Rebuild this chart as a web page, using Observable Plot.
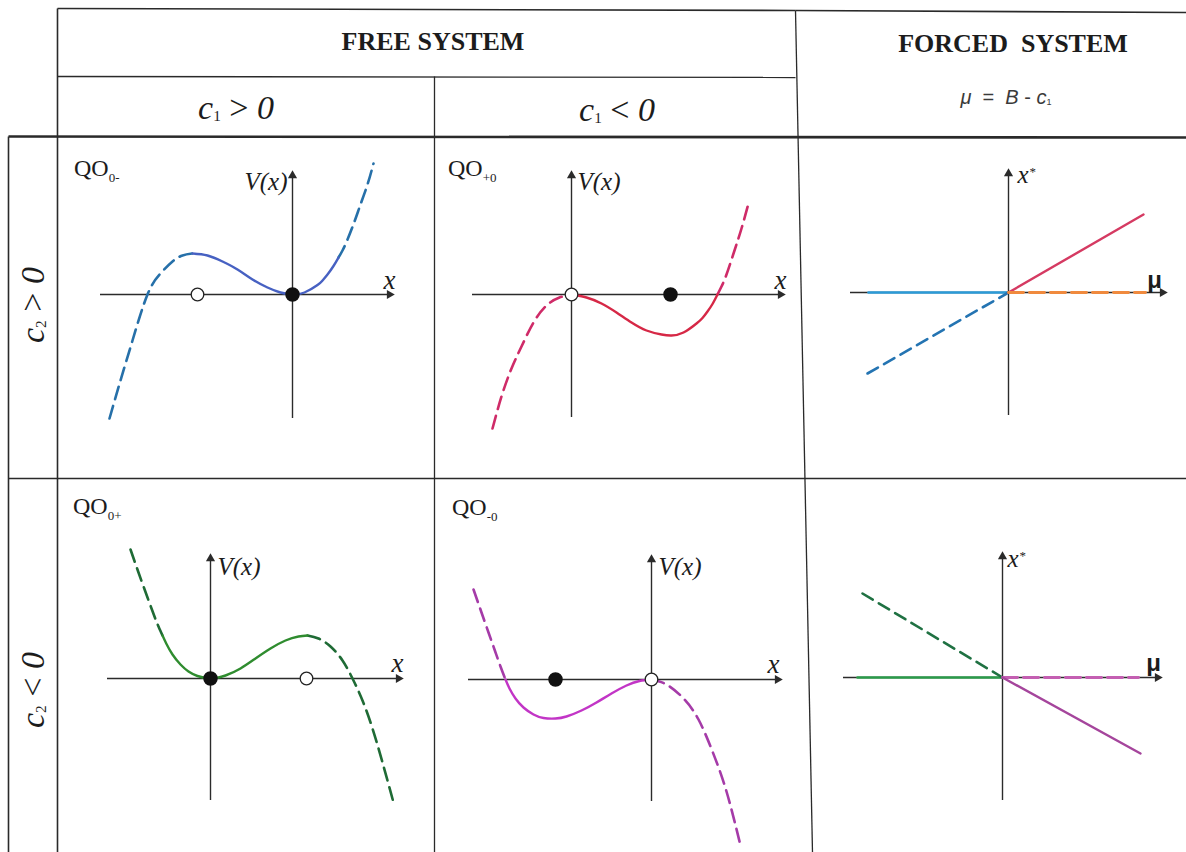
<!DOCTYPE html>
<html>
<head>
<meta charset="utf-8">
<script src="https://cdn.jsdelivr.net/npm/d3@7"></script>
<script src="https://cdn.jsdelivr.net/npm/@observablehq/plot@0.6"></script>
<style>
  html, body { margin: 0; padding: 0; background: #fff; }
  #page { position: relative; width: 1186px; height: 852px; overflow: hidden; background: #fff;
          font-family: "Liberation Serif", "Times New Roman", serif; color: #1c1c1c; }
  #page svg { position: absolute; overflow: visible; }
  .t { position: absolute; white-space: nowrap; line-height: 1; }
  .t sub { font-size: 0.45em; vertical-align: -0.1em; line-height: 0; }
  .qo sub { font-size: 13px; vertical-align: -6px; line-height: 0; }
  .sans { font-family: "Liberation Sans", Arial, sans-serif; }
</style>
</head>
<body>
<div id="page"></div>
<script>
// ---------- potential curves V(x), in axis units (origin at the axis crossing, V upward) ----------
// QO0-  (c1 > 0, c2 > 0)
const qo0mLeft  = [[-183,-124],[-172,-86],[-160,-46],[-145,0],[-132,21],[-120,33],[-110,39],[-100,41]];
const qo0mWell  = [[-100,41],[-85,39],[-70,33],[-55,25],[-40,15],[-25,7],[-12,2],[0,0],[12,2],[25,9.5],[30,14],[35,20],[41,28.5],[46,37]];
const qo0mRight = [[46,37],[50,44],[55,55],[62,73],[68,90],[75,110],[81,131]];
const qo0mStable = [0], qo0mUnstable = [-95];

// QO+0  (c1 < 0, c2 > 0)
const qop0Left  = [[-79,-134],[-70,-102],[-60,-74],[-50,-52],[-38,-28],[-25,-11],[-12,-3],[0,0]];
const qop0Well  = [[0,0],[15,-3],[30,-9],[45,-18],[60,-28],[75,-36],[90,-40],[100,-41],[112,-38],[125,-29],[131,-23.5],[136,-17],[141,-9.5],[146,0]];
const qop0Right = [[146,0],[150,8],[155,20],[163,44],[170,66],[177,91]];
const qop0Stable = [99], qop0Unstable = [0];

// QO0+  (c1 > 0, c2 < 0)
const qo0pLeft  = [[-80,129],[-72,106],[-63,81],[-56,62],[-52,52],[-48,43]];
const qo0pWell  = [[-48,43],[-44,34.5],[-38,24],[-30,14],[-22,7],[-13,2.5],[0,0],[15,3],[30,10],[45,20],[60,30],[75,38],[88,42],[97,43]];
const qo0pRight = [[97,43],[108,40],[120,32],[132,18],[142,0],[152,-22],[162,-50],[172,-84],[183,-124]];
const qo0pStable = [0], qo0pUnstable = [96];

// QO-0  (c1 < 0, c2 < 0)
const qom0Left  = [[-178,90],[-170,67],[-163,47],[-157,30],[-151,13],[-146,0]];
const qom0Well  = [[-146,0],[-142,-9],[-136,-19],[-128,-28],[-118,-35],[-108,-38.5],[-96,-39],[-85,-37],[-70,-31],[-55,-23],[-40,-14],[-25,-6],[-12,-1.5],[0,0]];
const qom0Right = [[0,0],[15,-5],[32,-19],[47,-40],[61,-72],[75,-112],[89,-166]];
const qom0Stable = [-96], qom0Unstable = [0];

// ---------- forced system: equilibrium branches x*(mu) ----------
const fUpStableLeft   = [[-140,0],[0,0]];
const fUpUnstableLeft = [[-141,-81],[0,0]];
const fUpStableRight  = [[0,0],[135,78]];
const fUpUnstableRight= [[0,0],[137,0]];

const fDnStableLeft   = [[-145,0],[0,0]];
const fDnUnstableLeft = [[-140,84],[0,0]];
const fDnUnstableRight= [[0,0],[136,0]];
const fDnStableRight  = [[0,0],[138,-76]];

// axis extents per panel [xmin, xmax], [ymin, ymax]
const axesQo0m = [[-192,100],[-124,122]];
const axesQop0 = [[-99,212],[-123,122]];
const axesFUp  = [[-158,157],[-123,122]];
const axesQo0p = [[-103,191],[-122,123]];
const axesQom0 = [[-183,129],[-122,123]];
const axesFDn  = [[-159,158],[-123,124]];

// ---------- layout ----------
const page = document.getElementById("page");
const AXIS = "#2b2b2b";
const SERIF = "Liberation Serif, Times New Roman, serif";

// table rules, page pixels
const tableRules = [
  {x1:57,  y1:8,   x2:795,  y2:10,  w:1.6},
  {x1:795, y1:10,  x2:1186, y2:12,  w:1.6},
  {x1:57,  y1:8,   x2:57,   y2:852, w:1.6},
  {x1:57,  y1:76,  x2:795,  y2:77,  w:1.3},
  {x1:434, y1:76,  x2:434,  y2:852, w:1.3},
  {x1:795, y1:10,  x2:812,  y2:852, w:1.3},
  {x1:8,   y1:136, x2:1186, y2:137, w:2.6},
  {x1:8,   y1:478, x2:1186, y2:478, w:1.3},
  {x1:8,   y1:136, x2:8,    y2:852, w:1.6}
];

const grid = Plot.plot({
  width: 1186, height: 852, margin: 0,
  x: {domain: [0, 1186], axis: null},
  y: {domain: [0, 852], range: [0, 852], axis: null},
  marks: [
    Plot.link(tableRules, {x1: "x1", y1: "y1", x2: "x2", y2: "y2", strokeWidth: "w", stroke: "#2a2a2a"})
  ]
});
grid.style.left = "0px"; grid.style.top = "0px";
page.appendChild(grid);

function axisMarks([xr, yr]) {
  return [
    Plot.ruleY([0], {x1: xr[0], x2: xr[1] - 3, stroke: AXIS, strokeWidth: 1.4}),
    Plot.ruleX([0], {y1: yr[0], y2: yr[1] - 3, stroke: AXIS, strokeWidth: 1.4}),
    Plot.dot([[xr[1] - 3, 0]], {symbol: "triangle", r: 3.4, fill: AXIS, stroke: "none", rotate: 90}),
    Plot.dot([[0, yr[1] - 3]], {symbol: "triangle", r: 3.4, fill: AXIS, stroke: "none"})
  ];
}

function potentialMarks(left, well, right, stable, unstable, dashColor, solidColor) {
  const dash = {curve: "natural", stroke: dashColor, strokeWidth: 2.6, strokeDasharray: "13,7"};
  return [
    Plot.line(left, dash),
    Plot.line(right, dash),
    Plot.line(well, {curve: "natural", stroke: solidColor, strokeWidth: 2.4}),
    Plot.dot(stable, {x: d => d, y: 0, r: 6.5, fill: "#111", stroke: "#111"}),
    Plot.dot(unstable, {x: d => d, y: 0, r: 6.3, fill: "#fff", stroke: "#222", strokeWidth: 1.3})
  ];
}

function axisText(text, x, y, o) {
  return Plot.text([text], {x, y, text: d => d, fontFamily: SERIF, fontStyle: "italic", fill: "#1c1c1c", ...o});
}

function panel(f, marks) {
  const svg = Plot.plot({
    width: f.width, height: f.height, margin: 0,
    x: {domain: [f.left - f.ox, f.left + f.width - f.ox], axis: null},
    y: {domain: [f.oy - f.top - f.height, f.oy - f.top], axis: null},
    style: {background: "transparent", overflow: "visible"},
    marks
  });
  svg.style.left = f.left + "px";
  svg.style.top = f.top + "px";
  page.appendChild(svg);
}

// QO0-
panel({left: 60, top: 140, width: 372, height: 336, ox: 292, oy: 294}, [
  ...axisMarks(axesQo0m),
  ...potentialMarks(qo0mLeft, qo0mWell, qo0mRight, qo0mStable, qo0mUnstable, "#2670a9", "#4761c2"),
  axisText("V(x)", 0, axesQo0m[1][1], {textAnchor: "end", dx: -5, dy: 9, fontSize: 25}),
  axisText("x", axesQo0m[0][1], 0, {dx: -3, dy: -14, fontSize: 27})
]);

// QO+0
panel({left: 437, top: 140, width: 362, height: 336, ox: 571, oy: 294}, [
  ...axisMarks(axesQop0),
  ...potentialMarks(qop0Left, qop0Well, qop0Right, qop0Stable, qop0Unstable, "#cf2b68", "#d62846"),
  axisText("V(x)", 0, axesQop0[1][1], {textAnchor: "start", dx: 6, dy: 9, fontSize: 25}),
  axisText("x", axesQop0[0][1], 0, {dx: -3, dy: -14, fontSize: 27})
]);

// forced, c2 > 0
panel({left: 812, top: 140, width: 374, height: 336, ox: 1008, oy: 292}, [
  ...axisMarks(axesFUp),
  Plot.line(fUpStableLeft, {stroke: "#2b9bd8", strokeWidth: 2.6}),
  Plot.line(fUpUnstableLeft, {stroke: "#2474b2", strokeWidth: 2.6, strokeDasharray: "12,7"}),
  Plot.line(fUpStableRight, {stroke: "#d53a62", strokeWidth: 2.4}),
  Plot.line(fUpUnstableRight, {stroke: "#f08a3e", strokeWidth: 2.8, strokeDasharray: "15,6"}),
  axisText("x", 0, axesFUp[1][1], {textAnchor: "start", dx: 9, dy: 4, fontSize: 25}),
  axisText("*", 0, axesFUp[1][1], {textAnchor: "start", dx: 21, dy: 1, fontSize: 13, fontStyle: "normal"}),
  Plot.text(["μ"], {x: axesFUp[0][1], y: 0, text: d => d, dx: -11, dy: -12, fontSize: 24,
    fontFamily: "Liberation Sans, Arial, sans-serif", fontWeight: "bold", fill: "#1c1c1c"})
]);

// QO0+
panel({left: 60, top: 481, width: 372, height: 370, ox: 210, oy: 678}, [
  ...axisMarks(axesQo0p),
  ...potentialMarks(qo0pLeft, qo0pWell, qo0pRight, qo0pStable, qo0pUnstable, "#1f6b35", "#2f8c2f"),
  axisText("V(x)", 0, axesQo0p[1][1], {textAnchor: "start", dx: 7, dy: 11, fontSize: 25}),
  axisText("x", axesQo0p[0][1], 0, {dx: -4, dy: -15, fontSize: 27})
]);

// QO-0
panel({left: 437, top: 481, width: 368, height: 370, ox: 651, oy: 679}, [
  ...axisMarks(axesQom0),
  ...potentialMarks(qom0Left, qom0Well, qom0Right, qom0Stable, qom0Unstable, "#a53ba8", "#c235c6"),
  axisText("V(x)", 0, axesQom0[1][1], {textAnchor: "start", dx: 7, dy: 10, fontSize: 25}),
  axisText("x", axesQom0[0][1], 0, {dx: -7, dy: -15, fontSize: 27})
]);

// forced, c2 < 0
panel({left: 814, top: 481, width: 372, height: 370, ox: 1002, oy: 677}, [
  ...axisMarks(axesFDn),
  Plot.line(fDnStableLeft, {stroke: "#2a9b4a", strokeWidth: 2.6}),
  Plot.line(fDnUnstableLeft, {stroke: "#1f7142", strokeWidth: 2.6, strokeDasharray: "12,7"}),
  Plot.line(fDnUnstableRight, {stroke: "#c45fb2", strokeWidth: 2.8, strokeDasharray: "15,6"}),
  Plot.line(fDnStableRight, {stroke: "#a5459c", strokeWidth: 2.4}),
  axisText("x", 0, axesFDn[1][1], {textAnchor: "start", dx: 5, dy: 5, fontSize: 25}),
  axisText("*", 0, axesFDn[1][1], {textAnchor: "start", dx: 17, dy: 2, fontSize: 13, fontStyle: "normal"}),
  Plot.text(["μ"], {x: axesFDn[0][1], y: 0, text: d => d, dx: -7, dy: -14, fontSize: 24,
    fontFamily: "Liberation Sans, Arial, sans-serif", fontWeight: "bold", fill: "#1c1c1c"})
]);

// ---------- headings (HTML text) ----------
function label(html, x, baseline, size, opts = {}) {
  const d = document.createElement("div");
  d.className = "t" + (opts.cls ? " " + opts.cls : "");
  d.innerHTML = html;
  d.style.fontSize = size + "px";
  if (opts.weight) d.style.fontWeight = opts.weight;
  if (opts.italic) d.style.fontStyle = "italic";
  if (opts.color) d.style.color = opts.color;
  if (opts.rotate) {
    d.style.left = x + "px";
    d.style.top = baseline + "px";
    d.style.transform = "translate(-50%,-50%) rotate(-90deg)";
  } else {
    d.style.left = x + "px";
    d.style.top = (baseline - 0.8375 * size) + "px";
    if (opts.anchor !== "start") d.style.transform = "translateX(-50%)";
  }
  page.appendChild(d);
}

label("FREE SYSTEM", 433, 51, 26, {weight: "bold"});
label("FORCED&nbsp; SYSTEM", 1013, 53, 26, {weight: "bold"});
label("<i>μ</i> &nbsp;= &nbsp;<i>B</i> - <i>c</i><sub>1</sub>", 1006, 104, 20, {color: "#3a3a3a", cls: "sans"});
label("<i>c</i><sub>1</sub> &gt; <i>0</i>", 236, 119, 34);
label("<i>c</i><sub>1</sub> &lt; <i>0</i>", 617, 121, 34);
label("<i>c</i><sub>2</sub> &gt; <i>0</i>", 33, 305, 34, {rotate: true});
label("<i>c</i><sub>2</sub> &lt; <i>0</i>", 33, 690, 34, {rotate: true});

label("QO<sub>0-</sub>", 74, 176, 24, {anchor: "start", cls: "qo"});
label("QO<sub>+0</sub>", 448, 176, 24, {anchor: "start", cls: "qo"});
label("QO<sub>0+</sub>", 73, 514, 24, {anchor: "start", cls: "qo"});
label("QO<sub>-0</sub>", 452, 515, 24, {anchor: "start", cls: "qo"});
</script>
</body>
</html>
